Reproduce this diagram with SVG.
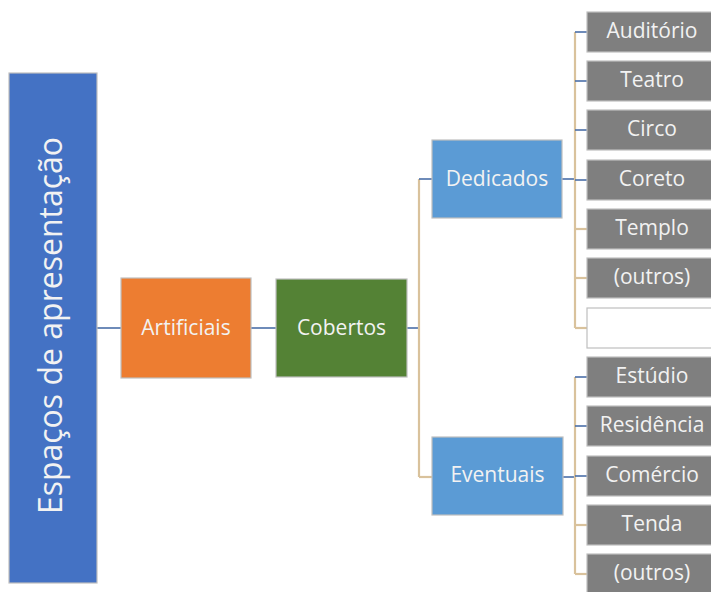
<svg xmlns="http://www.w3.org/2000/svg" width="711" height="592" viewBox="0 0 711 592">
  <style>
    .box { stroke: #BFBFBF; stroke-width: 1.2; }
    .root { fill: #4472C4; }
    .orange { fill: #ED7D31; }
    .green { fill: #548235; }
    .lblue { fill: #5B9BD5; }
    .gray { fill: #7F7F7F; }
    .blank { fill: #FFFFFF; }
    .t { font-family: "Open Sans", "Liberation Sans", sans-serif; fill: #F2F2F2; text-anchor: middle; font-size: 21px; }
    .big { font-size: 32px; }
    .blue { stroke: #4A6EA8; stroke-width: 1.6; fill: none; }
    .tan { stroke: #D9C29C; stroke-width: 2.2; fill: none; }
  </style>

  <!-- connectors -->
  <g id="connectors">
    <line class="blue" x1="97" y1="328" x2="121" y2="328"/>
    <line class="blue" x1="251" y1="328" x2="276" y2="328"/>
    <line class="blue" x1="407" y1="328" x2="419" y2="328"/>
    <line class="tan" x1="419" y1="179" x2="419" y2="477"/>
    <line class="blue" x1="419" y1="179" x2="432" y2="179"/>
    <line class="tan" x1="419" y1="477" x2="432" y2="477"/>

    <!-- Dedicados branch -->
    <line class="blue" x1="562" y1="179" x2="575" y2="179"/>
    <line class="tan" x1="575" y1="32" x2="575" y2="328"/>
    <line class="blue" x1="575" y1="32" x2="587" y2="32"/>
    <line class="blue" x1="575" y1="81" x2="587" y2="81"/>
    <line class="blue" x1="575" y1="130" x2="587" y2="130"/>
    <line class="blue" x1="575" y1="180" x2="587" y2="180"/>
    <line class="tan" x1="575" y1="229" x2="587" y2="229"/>
    <line class="tan" x1="575" y1="278" x2="587" y2="278"/>
    <line class="tan" x1="575" y1="328" x2="587" y2="328"/>

    <!-- Eventuais branch -->
    <line class="blue" x1="563" y1="477" x2="575" y2="477"/>
    <line class="tan" x1="575" y1="377" x2="575" y2="574"/>
    <line class="blue" x1="575" y1="377" x2="587" y2="377"/>
    <line class="blue" x1="575" y1="426" x2="587" y2="426"/>
    <line class="blue" x1="575" y1="476" x2="587" y2="476"/>
    <line class="tan" x1="575" y1="525" x2="587" y2="525"/>
    <line class="tan" x1="575" y1="574" x2="587" y2="574"/>
  </g>

  <g id="espacos">
    <rect class="box root" x="9" y="73" width="88" height="510"/>
    <text class="t big" transform="translate(62 325.5) rotate(-90)" x="0" y="0">Espaços de apresentação</text>
  </g>

  <g id="artificiais">
    <rect class="box orange" x="121" y="278" width="130" height="100"/>
    <text class="t" x="186" y="334.5">Artificiais</text>
  </g>

  <g id="cobertos">
    <rect class="box green" x="276" y="279" width="131" height="98"/>
    <text class="t" x="341.5" y="334.5">Cobertos</text>
  </g>

  <g id="dedicados">
    <rect class="box lblue" x="432" y="140" width="130" height="78"/>
    <text class="t" x="497" y="186">Dedicados</text>
  </g>

  <g id="eventuais">
    <rect class="box lblue" x="432" y="437" width="131" height="78"/>
    <text class="t" x="497.5" y="482">Eventuais</text>
  </g>

  <g id="auditorio">
    <rect class="box gray" x="587" y="12" width="126" height="40"/>
    <text class="t" x="652" y="37.5">Auditório</text>
  </g>
  <g id="teatro">
    <rect class="box gray" x="587" y="61" width="126" height="40"/>
    <text class="t" x="652" y="87">Teatro</text>
  </g>
  <g id="circo">
    <rect class="box gray" x="587" y="110" width="126" height="40"/>
    <text class="t" x="652" y="136">Circo</text>
  </g>
  <g id="coreto">
    <rect class="box gray" x="587" y="160" width="126" height="40"/>
    <text class="t" x="652" y="186">Coreto</text>
  </g>
  <g id="templo">
    <rect class="box gray" x="587" y="209" width="126" height="40"/>
    <text class="t" x="652" y="235">Templo</text>
  </g>
  <g id="outros1">
    <rect class="box gray" x="587" y="258" width="126" height="40"/>
    <text class="t" x="652" y="284">(outros)</text>
  </g>
  <g id="vazio">
    <rect class="box blank" x="587" y="308" width="126" height="40"/>
  </g>
  <g id="estudio">
    <rect class="box gray" x="587" y="357" width="126" height="40"/>
    <text class="t" x="652" y="383">Estúdio</text>
  </g>
  <g id="residencia">
    <rect class="box gray" x="587" y="406" width="126" height="40"/>
    <text class="t" x="652" y="432">Residência</text>
  </g>
  <g id="comercio">
    <rect class="box gray" x="587" y="456" width="126" height="40"/>
    <text class="t" x="652" y="482">Comércio</text>
  </g>
  <g id="tenda">
    <rect class="box gray" x="587" y="505" width="126" height="40"/>
    <text class="t" x="652" y="531">Tenda</text>
  </g>
  <g id="outros2">
    <rect class="box gray" x="587" y="554" width="126" height="40"/>
    <text class="t" x="652" y="580">(outros)</text>
  </g>
</svg>
